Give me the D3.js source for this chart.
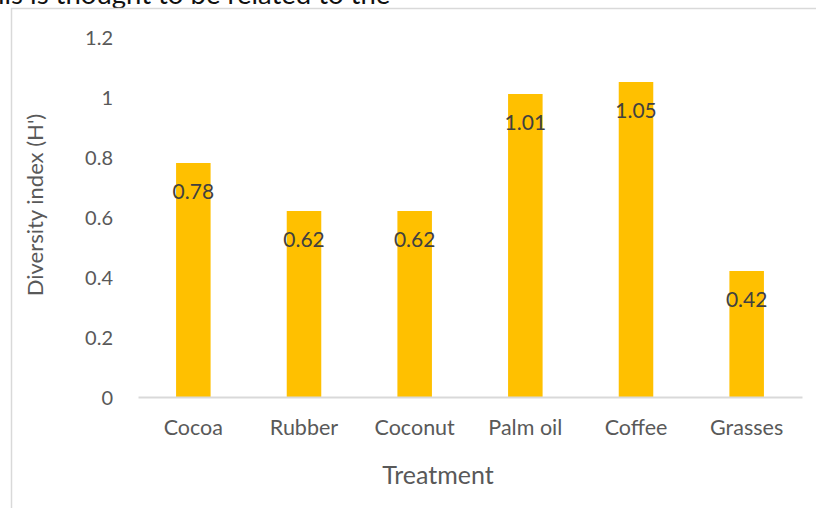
<!DOCTYPE html>
<html>
<head>
<meta charset="utf-8">
<script src="https://cdn.jsdelivr.net/npm/d3@7"></script>
<style>
  html, body { margin: 0; padding: 0; background: #fff; }
  svg { display: block; }
  text { font-family: Lato, "Open Sans", sans-serif; }
</style>
</head>
<body>
<svg id="chart" width="816" height="508"></svg>
<script>
// Diversity index per treatment
const categories = ["Cocoa", "Rubber", "Coconut", "Palm oil", "Coffee", "Grasses"];
const values = [0.78, 0.62, 0.62, 1.01, 1.05, 0.42];
const yTicks = [0, 0.2, 0.4, 0.6, 0.8, 1, 1.2];
const xTitle = "Treatment";
const yTitle = "Diversity index (H')";
const headerText = "ils is thought to be related to the";

const svg = d3.select("#chart");
const W = 816, H = 508;
const plot = { left: 138, right: 802, top: 37, bottom: 397 };

// running document text above the chart frame
svg.append("text")
  .attr("x", -2).attr("y", 4)
  .attr("font-size", 27.5)
  .attr("fill", "#111")
  .text(headerText);

// chart frame (left and top edges visible)
svg.append("line").attr("x1", 11).attr("x2", W).attr("y1", 8.5).attr("y2", 8.5)
  .attr("stroke", "#d9d9d9").attr("stroke-width", 1.5);
svg.append("line").attr("x1", 11.5).attr("x2", 11.5).attr("y1", 8).attr("y2", H)
  .attr("stroke", "#d9d9d9").attr("stroke-width", 1.5);

const x = d3.scaleBand()
  .domain(categories)
  .range([plot.left, plot.right])
  .paddingInner(0.688)
  .paddingOuter(0.344);

const y = d3.scaleLinear()
  .domain([0, 1.2])
  .range([plot.bottom, plot.top]);

// y axis: labels only
const yAxis = svg.append("g")
  .attr("transform", `translate(${plot.left - 25},0)`)
  .call(d3.axisLeft(y).tickValues(yTicks).tickSize(0).tickPadding(0)
    .tickFormat(d => d3.format("~g")(d)));
yAxis.select(".domain").remove();
yAxis.selectAll("text")
  .attr("font-family", "Lato, sans-serif")
  .attr("font-size", 20)
  .attr("fill", "#595959")
  .attr("dy", "0.36em");

// bars
svg.append("g").selectAll("rect")
  .data(values)
  .join("rect")
  .attr("x", (d, i) => x(categories[i]))
  .attr("width", x.bandwidth())
  .attr("y", d => y(d))
  .attr("height", d => y(0) - y(d))
  .attr("fill", "#FFC000");

// x axis baseline and category labels
const xAxis = svg.append("g")
  .attr("transform", `translate(0,${plot.bottom})`)
  .call(d3.axisBottom(x).tickSize(0).tickPadding(0));
xAxis.select(".domain")
  .attr("stroke", "#d9d9d9").attr("stroke-width", 2);
xAxis.selectAll("text")
  .attr("font-family", "Lato, sans-serif")
  .attr("font-size", 21.5)
  .attr("fill", "#595959")
  .attr("dy", null)
  .attr("y", 38);

// value labels inside the top of each bar
svg.append("g").selectAll("text")
  .data(values)
  .join("text")
  .attr("x", (d, i) => x(categories[i]) + x.bandwidth() / 2)
  .attr("y", d => y(d) + 36)
  .attr("text-anchor", "middle")
  .attr("font-size", 21)
  .attr("fill", "#404040")
  .text(d => d3.format(".2f")(d));

// axis titles
svg.append("text")
  .attr("x", 438)
  .attr("y", 484)
  .attr("text-anchor", "middle")
  .attr("font-size", 25)
  .attr("fill", "#595959")
  .text(xTitle);

svg.append("text")
  .attr("transform", `translate(43,${205}) rotate(-90)`)
  .attr("text-anchor", "middle")
  .attr("font-size", 22)
  .attr("fill", "#595959")
  .text(yTitle);
</script>
</body>
</html>
